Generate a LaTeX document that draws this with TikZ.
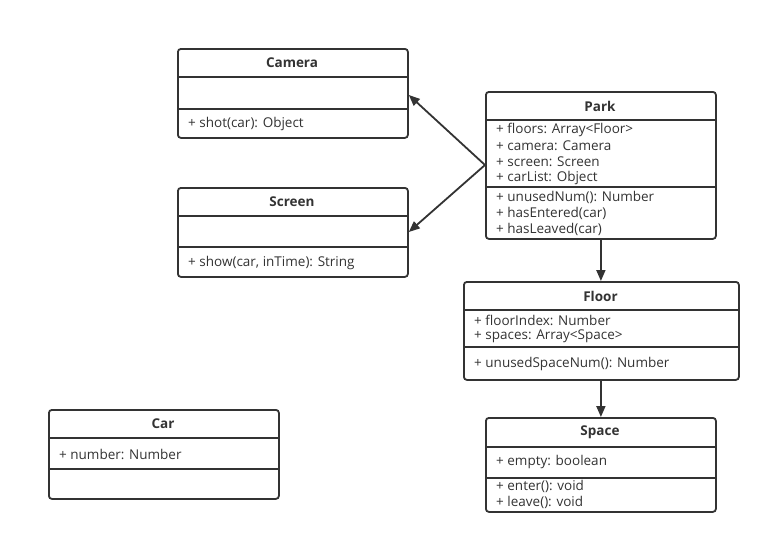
\documentclass[tikz,border=0pt]{standalone}
\usepackage{fontspec}
\setmainfont{Open Sans}
\usetikzlibrary{arrows.meta}
\definecolor{ink}{HTML}{333333}
\tikzset{
  umlbox/.style={draw=ink, line width=1.8pt, rounded corners=3pt, fill=white, anchor=north west, inner sep=0pt},
  divider/.style={draw=ink, line width=1.8pt},
  title/.style={font=\fontsize{13.5}{16}\selectfont\bfseries, text=ink, inner sep=0pt},
  member/.style={font=\fontsize{13.5}{16}\selectfont, text=ink, anchor=west, inner sep=0pt},
  assoc/.style={draw=ink, line width=1.8pt, -{Triangle[length=11pt,width=9pt]}}
}
\begin{document}
\begin{tikzpicture}[x=1pt,y=-1pt]
\useasboundingbox (0,0) rectangle (769,544);
% Camera
\node[umlbox, minimum width=230pt, minimum height=89pt] (camera) at (177,48) {};
\draw[divider] (177,77) -- (407,77);
\draw[divider] (177,109) -- (407,109);
\node[title] (cameraT) at (292,63) {Camera};
\node[member] (cameraM1) at (188,124) {+ shot(car): Object};
% Screen
\node[umlbox, minimum width=230pt, minimum height=89pt] (screen) at (177,187) {};
\draw[divider] (177,216) -- (407,216);
\draw[divider] (177,247) -- (407,247);
\node[title] (screenT) at (292,202) {Screen};
\node[member] (screenM1) at (188,263) {+ show(car, inTime): String};
% Park
\node[umlbox, minimum width=230pt, minimum height=147pt] (park) at (485,91) {};
\draw[divider] (485,120) -- (715,120);
\draw[divider] (485,187) -- (715,187);
\node[title] (parkT) at (600,106) {Park};
\node[member] (parkA1) at (496,130) {+ floors: Array<Floor>};
\node[member] (parkA2) at (496,146) {+ camera: Camera};
\node[member] (parkA3) at (496,162) {+ screen: Screen};
\node[member] (parkA4) at (496,178) {+ carList: Object};
\node[member] (parkM1) at (496,197) {+ unusedNum(): Number};
\node[member] (parkM2) at (496,213) {+ hasEntered(car)};
\node[member] (parkM3) at (496,229) {+ hasLeaved(car)};
% Floor
\node[umlbox, minimum width=275pt, minimum height=98pt] (floor) at (463,281) {};
\draw[divider] (463,310) -- (738,310);
\draw[divider] (463,347) -- (738,347);
\node[title] (floorT) at (600.5,296) {Floor};
\node[member] (floorA1) at (474,320) {+ floorIndex: Number};
\node[member] (floorA2) at (474,336) {+ spaces: Array<Space>};
\node[member] (floorM1) at (474,364) {+ unusedSpaceNum(): Number};
% Car
\node[umlbox, minimum width=230pt, minimum height=89pt] (car) at (48,409) {};
\draw[divider] (48,438) -- (278,438);
\draw[divider] (48,469) -- (278,469);
\node[title] (carT) at (163,424) {Car};
\node[member] (carA1) at (59,454) {+ number: Number};
% Space
\node[umlbox, minimum width=230pt, minimum height=94pt] (space) at (485,417) {};
\draw[divider] (485,447) -- (715,447);
\draw[divider] (485,478) -- (715,478);
\node[title] (spaceT) at (600,432) {Space};
\node[member] (spaceA1) at (496,462) {+ empty: boolean};
\node[member] (spaceM1) at (496,486) {+ enter(): void};
\node[member] (spaceM2) at (496,502) {+ leave(): void};
% connectors
\coordinate (parkL) at (485,165);
\draw[assoc] (parkL) -- (camera.east |- 0,95);
\draw[assoc] (parkL) -- (screen.east |- 0,232);
\draw[assoc] (park.south) -- (floor.north -| park.south);
\draw[assoc] (floor.south -| space.north) -- (space.north);
\end{tikzpicture}
\end{document}
